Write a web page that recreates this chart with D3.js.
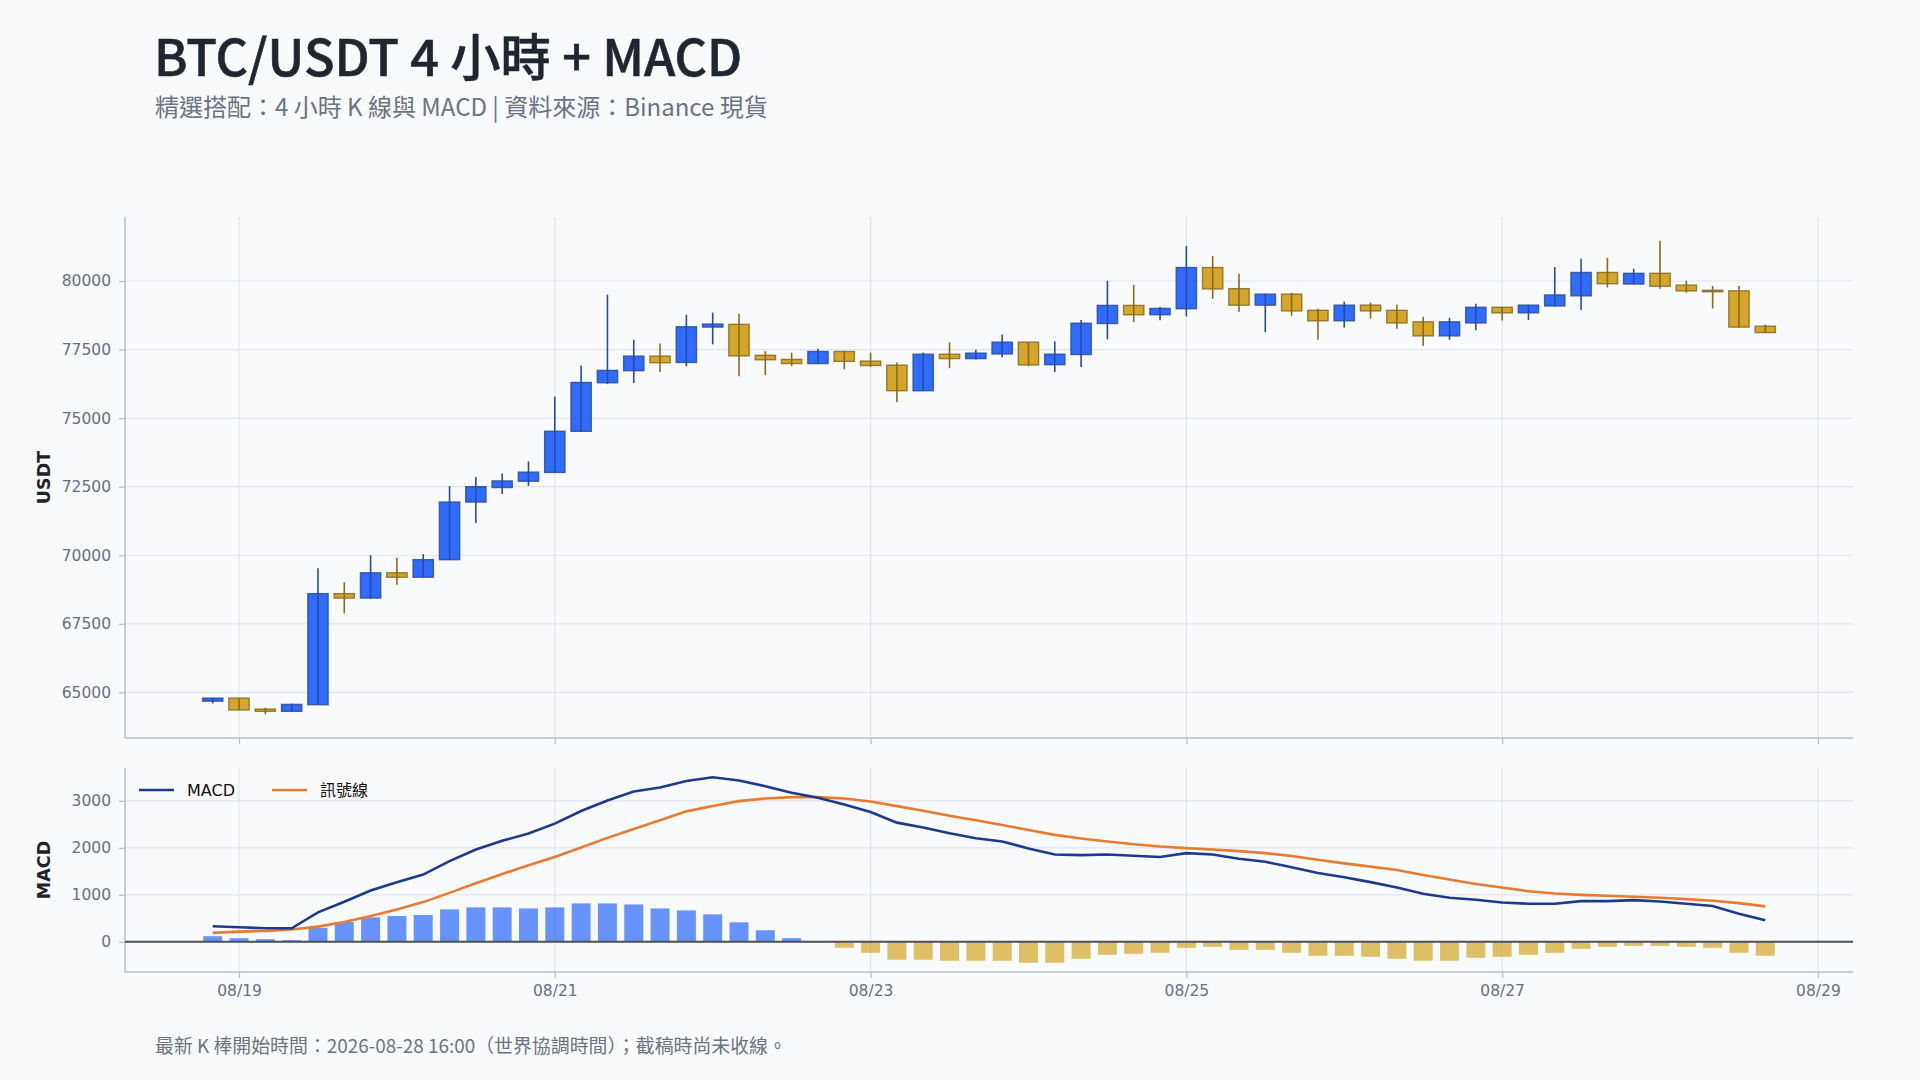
<!DOCTYPE html>
<html>
<head>
<meta charset="utf-8">
<script src="https://cdn.jsdelivr.net/npm/d3@7/dist/d3.min.js"></script>
<style>
  html, body { margin: 0; padding: 0; background: #f8fafc; }
  svg { display: block; }
</style>
</head>
<body>
<svg id="chart" width="1920" height="1080"></svg>
<script>
// ---------------- DATA ----------------
const times = [
  "2026-08-18T20:00Z","2026-08-19T00:00Z","2026-08-19T04:00Z","2026-08-19T08:00Z","2026-08-19T12:00Z","2026-08-19T16:00Z",
  "2026-08-19T20:00Z","2026-08-20T00:00Z","2026-08-20T04:00Z","2026-08-20T08:00Z","2026-08-20T12:00Z","2026-08-20T16:00Z",
  "2026-08-20T20:00Z","2026-08-21T00:00Z","2026-08-21T04:00Z","2026-08-21T08:00Z","2026-08-21T12:00Z","2026-08-21T16:00Z",
  "2026-08-21T20:00Z","2026-08-22T00:00Z","2026-08-22T04:00Z","2026-08-22T08:00Z","2026-08-22T12:00Z","2026-08-22T16:00Z",
  "2026-08-22T20:00Z","2026-08-23T00:00Z","2026-08-23T04:00Z","2026-08-23T08:00Z","2026-08-23T12:00Z","2026-08-23T16:00Z",
  "2026-08-23T20:00Z","2026-08-24T00:00Z","2026-08-24T04:00Z","2026-08-24T08:00Z","2026-08-24T12:00Z","2026-08-24T16:00Z",
  "2026-08-24T20:00Z","2026-08-25T00:00Z","2026-08-25T04:00Z","2026-08-25T08:00Z","2026-08-25T12:00Z","2026-08-25T16:00Z",
  "2026-08-25T20:00Z","2026-08-26T00:00Z","2026-08-26T04:00Z","2026-08-26T08:00Z","2026-08-26T12:00Z","2026-08-26T16:00Z",
  "2026-08-26T20:00Z","2026-08-27T00:00Z","2026-08-27T04:00Z","2026-08-27T08:00Z","2026-08-27T12:00Z","2026-08-27T16:00Z",
  "2026-08-27T20:00Z","2026-08-28T00:00Z","2026-08-28T04:00Z","2026-08-28T08:00Z","2026-08-28T12:00Z","2026-08-28T16:00Z"
];
const open = [64680,64790,64390,64310,64550,68600,68440,69360,69200,69840,71940,72470,72700,73020,74520,76290,76730,77260,77030,78320,
  78420,77290,77140,76990,77430,77080,76930,76000,77330,77170,77340,77770,76950,77320,78450,79110,78770,78990,80490,79720,
  79120,79520,78930,78550,79120,78930,78510,78000,78470,79040,78840,79090,79460,80310,79890,80280,79850,79660,79640,78350];
const high = [64800,64790,64440,64590,69530,69010,70000,69910,70040,72520,72850,72980,73420,75790,76920,79500,77860,77720,78770,78850,
  78810,77440,77390,77530,77460,77390,77030,77390,77760,77490,78050,77770,77800,78580,80010,79860,79050,81280,80910,80260,
  79540,79570,78990,79250,79210,79140,78700,78660,79170,79050,79130,80510,80810,80840,80450,81470,80010,79820,79820,78410];
const low = [64600,64350,64200,64300,64540,67880,68420,68920,69190,69830,71180,72230,72530,73010,74510,76240,76280,76680,76890,77690,
  76530,76570,76890,76970,76780,76860,75580,75990,76820,77140,77220,76890,76680,76860,77870,78500,78570,78710,79350,78880,
  78130,78730,77860,78300,78630,78260,77640,77860,78200,78560,78580,79080,78940,79760,79880,79720,79570,79000,78300,78110];
const close = [64790,64360,64310,64560,68600,68440,69360,69200,69840,71940,72500,72710,73030,74520,76300,76740,77260,77020,78330,78430,
  77270,77130,76990,77430,77070,76920,76000,77330,77170,77370,77770,76940,77330,78460,79110,78770,79000,80490,79710,79120,
  79520,78910,78550,79120,78910,78470,78000,78510,79040,78840,79120,79490,80310,79900,80280,79810,79640,79610,78320,78120];

const macd = [331,310,289,289,627,852,1092,1268,1430,1718,1965,2148,2303,2514,2782,3007,3197,3282,3420,3500,
  3430,3310,3169,3063,2923,2761,2535,2430,2310,2204,2134,1986,1859,1845,1859,1831,1803,1887,1859,1768,
  1704,1585,1465,1373,1270,1155,1021,937,894,838,810,810,866,866,887,859,810,761,599,458];
const signal = [190,218,232,261,324,423,549,690,845,1042,1246,1444,1627,1803,2007,2211,2401,2585,2775,2887,
  2993,3049,3077,3077,3049,2986,2887,2789,2683,2585,2486,2380,2275,2197,2134,2077,2028,1993,1965,1930,
  1887,1824,1746,1669,1600,1528,1423,1324,1232,1155,1077,1028,1000,979,958,937,908,873,824,754];
const hist = [120,77,56,35,296,423,521,549,570,690,732,732,711,732,817,817,796,711,669,585,
  415,246,77,-8,-127,-232,-380,-380,-401,-401,-401,-444,-444,-359,-275,-254,-232,-127,-106,-169,
  -169,-232,-296,-296,-317,-359,-401,-401,-338,-317,-275,-232,-148,-106,-85,-85,-106,-127,-232,-296];

const priceTicks = [65000, 67500, 70000, 72500, 75000, 77500, 80000];
const macdTicks = [0, 1000, 2000, 3000];
const dateTicks = ["2026-08-19T00:00Z","2026-08-21T00:00Z","2026-08-23T00:00Z","2026-08-25T00:00Z","2026-08-27T00:00Z","2026-08-29T00:00Z"];
const xDomain = ["2026-08-18T06:40Z", "2026-08-29T05:20Z"];

const titleText = "BTC/USDT 4 小時 + MACD";
const subtitleText = "精選搭配：4 小時 K 線與 MACD | 資料來源：Binance 現貨";
const footerText = "最新 K 棒開始時間：2026-08-28 16:00（世界協調時間）；截稿時尚未收線。";
const legendLabels = ["MACD", "訊號線"];

// ---------------- LAYOUT ----------------
const svg = d3.select("#chart");
const L = 125, R = 1853;
const pTop = 217, pBot = 738;
const mTop = 768, mBot = 972;
const cjk = "'Noto Sans CJK TC', 'Noto Sans', sans-serif";
const tickFont = "'DejaVu Sans', sans-serif";
const gridColor = "#e1e5eb";
const axisColor = "#b7bec9";
const tickTextColor = "#687080";

const upFill = "#2f6bff", upStroke = "#2b4c9b";
const dnFill = "#d4a72c", dnStroke = "#8a6a1c";

const parse = d3.utcParse("%Y-%m-%dT%H:%MZ");
const t = times.map(parse);
const candles = t.map((d, i) => ({ t: d, o: open[i], h: high[i], l: low[i], c: close[i], m: macd[i], s: signal[i], hv: hist[i] }));

svg.append("rect").attr("width", 1920).attr("height", 1080).attr("fill", "#f8fafc");

const x = d3.scaleUtc().domain(xDomain.map(parse)).range([L, R]);
const step = x(t[1]) - x(t[0]);

const lo = d3.min(low), hi = d3.max(high);
const pad = (hi - lo) * 0.05;
const y = d3.scaleLinear().domain([lo - pad, hi + pad]).range([pBot, pTop]);

const mMin = d3.min([d3.min(macd), d3.min(signal), d3.min(hist)]);
const mMax = d3.max([d3.max(macd), d3.max(signal), d3.max(hist)]);
const mPad = (mMax - mMin) * 0.05;
const ym = d3.scaleLinear().domain([mMin - mPad, mMax + mPad]).range([mBot, mTop]);

const dticks = dateTicks.map(parse);

// ---------------- PRICE PANEL ----------------
const gp = svg.append("g");
gp.append("g").selectAll("line").data(priceTicks).join("line")
  .attr("x1", L).attr("x2", R).attr("y1", d => y(d)).attr("y2", d => y(d))
  .attr("stroke", gridColor).attr("stroke-width", 1.2);
gp.append("g").selectAll("line").data(dticks).join("line")
  .attr("x1", d => x(d)).attr("x2", d => x(d)).attr("y1", pTop).attr("y2", pBot)
  .attr("stroke", gridColor).attr("stroke-width", 1.2);

const yAxis = d3.axisLeft(y).tickValues(priceTicks).tickSize(6).tickPadding(8).tickFormat(d3.format("d"));
const gy = gp.append("g").attr("transform", `translate(${L},0)`).call(yAxis);
const xAxisP = d3.axisBottom(x).tickValues(dticks).tickSize(6).tickFormat("");
const gxp = gp.append("g").attr("transform", `translate(0,${pBot})`).call(xAxisP);
[gy, gxp].forEach(g => {
  g.select(".domain").remove();
  g.selectAll(".tick line").attr("stroke", axisColor).attr("stroke-width", 1.2);
  g.selectAll(".tick text").attr("fill", tickTextColor).style("font-family", tickFont).style("font-size", "15.5px");
});
gp.append("line").attr("x1", L).attr("x2", L).attr("y1", pTop).attr("y2", pBot).attr("stroke", axisColor).attr("stroke-width", 1.5);
gp.append("line").attr("x1", L).attr("x2", R).attr("y1", pBot).attr("y2", pBot).attr("stroke", axisColor).attr("stroke-width", 1.5);

// candles
const bw = step * 0.77;
const cg = gp.append("g").selectAll("g").data(candles).join("g");
cg.append("line")
  .attr("x1", d => x(d.t)).attr("x2", d => x(d.t))
  .attr("y1", d => y(d.h)).attr("y2", d => y(d.l))
  .attr("stroke", d => d.c >= d.o ? upStroke : dnStroke).attr("stroke-width", 1.6);
cg.append("rect")
  .attr("x", d => x(d.t) - bw / 2).attr("width", bw)
  .attr("y", d => y(Math.max(d.o, d.c)))
  .attr("height", d => Math.max(1, Math.abs(y(d.o) - y(d.c))))
  .attr("fill", d => d.c >= d.o ? upFill : dnFill)
  .attr("stroke", d => d.c >= d.o ? upStroke : dnStroke).attr("stroke-width", 1.4).attr("stroke-opacity", 0.85);
cg.append("line")
  .attr("x1", d => x(d.t)).attr("x2", d => x(d.t))
  .attr("y1", d => y(Math.max(d.o, d.c))).attr("y2", d => y(Math.min(d.o, d.c)))
  .attr("stroke", d => d.c >= d.o ? upStroke : dnStroke).attr("stroke-width", 1.6);

svg.append("text").attr("transform", `translate(50,${(pTop + pBot) / 2}) rotate(-90)`)
  .attr("text-anchor", "middle").attr("fill", "#1f2328")
  .style("font-family", "'DejaVu Sans', sans-serif").style("font-weight", "bold").style("font-size", "17.5px")
  .text("USDT");

// ---------------- MACD PANEL ----------------
const gm = svg.append("g");
gm.append("g").selectAll("line").data(macdTicks).join("line")
  .attr("x1", L).attr("x2", R).attr("y1", d => ym(d)).attr("y2", d => ym(d))
  .attr("stroke", gridColor).attr("stroke-width", 1.2);
gm.append("g").selectAll("line").data(dticks).join("line")
  .attr("x1", d => x(d)).attr("x2", d => x(d)).attr("y1", mTop).attr("y2", mBot)
  .attr("stroke", gridColor).attr("stroke-width", 1.2);

const ymAxis = d3.axisLeft(ym).tickValues(macdTicks).tickSize(6).tickPadding(8).tickFormat(d3.format("d"));
const gym = gm.append("g").attr("transform", `translate(${L},0)`).call(ymAxis);
const xAxisM = d3.axisBottom(x).tickValues(dticks).tickSize(6).tickPadding(7).tickFormat(d3.utcFormat("%m/%d"));
const gxm = gm.append("g").attr("transform", `translate(0,${mBot})`).call(xAxisM);
[gym, gxm].forEach(g => {
  g.select(".domain").remove();
  g.selectAll(".tick line").attr("stroke", axisColor).attr("stroke-width", 1.2);
  g.selectAll(".tick text").attr("fill", tickTextColor).style("font-family", tickFont).style("font-size", "15.5px");
});
gm.append("line").attr("x1", L).attr("x2", L).attr("y1", mTop).attr("y2", mBot).attr("stroke", axisColor).attr("stroke-width", 1.5);
gm.append("line").attr("x1", L).attr("x2", R).attr("y1", mBot).attr("y2", mBot).attr("stroke", axisColor).attr("stroke-width", 1.5);

const hw = step * 0.72;
gm.append("g").selectAll("rect").data(candles).join("rect")
  .attr("x", d => x(d.t) - hw / 2).attr("width", hw)
  .attr("y", d => ym(Math.max(0, d.hv)))
  .attr("height", d => Math.abs(ym(d.hv) - ym(0)))
  .attr("fill", d => d.hv >= 0 ? upFill : dnFill).attr("fill-opacity", 0.72);

gm.append("line").attr("x1", L).attr("x2", R).attr("y1", ym(0)).attr("y2", ym(0))
  .attr("stroke", "#4b5058").attr("stroke-width", 2);

const lineM = d3.line().x(d => x(d.t)).y(d => ym(d.m));
const lineS = d3.line().x(d => x(d.t)).y(d => ym(d.s));
gm.append("path").datum(candles).attr("d", lineS).attr("fill", "none").attr("stroke", "#e87b30").attr("stroke-width", 2.6);
gm.append("path").datum(candles).attr("d", lineM).attr("fill", "none").attr("stroke", "#1c3a8e").attr("stroke-width", 2.6);

const leg = gm.append("g").attr("transform", `translate(139,${mTop + 22})`);
const legColors = ["#1c3a8e", "#e87b30"];
const legX = [0, 133];
legendLabels.forEach((lab, i) => {
  leg.append("line").attr("x1", legX[i]).attr("x2", legX[i] + 35).attr("y1", 0).attr("y2", 0)
    .attr("stroke", legColors[i]).attr("stroke-width", 2.6);
  leg.append("text").attr("x", legX[i] + 48).attr("y", 6).attr("fill", "#111")
    .style("font-family", i === 0 ? "'DejaVu Sans', sans-serif" : cjk).style("font-size", "16px").text(lab);
});

svg.append("text").attr("transform", `translate(50,${(mTop + mBot) / 2}) rotate(-90)`)
  .attr("text-anchor", "middle").attr("fill", "#1f2328")
  .style("font-family", "'DejaVu Sans', sans-serif").style("font-weight", "bold").style("font-size", "17.5px")
  .text("MACD");

// ---------------- TITLES ----------------
svg.append("text").attr("x", 154).attr("y", 76).attr("fill", "#1f2630")
  .attr("stroke", "#1f2630").attr("stroke-width", 0.6)
  .style("font-family", cjk).style("font-weight", "500").style("font-size", "50.3px").text(titleText);
svg.append("text").attr("x", 155).attr("y", 116).attr("fill", "#6b7382")
  .style("font-family", cjk).style("font-size", "24px").text(subtitleText);
svg.append("text").attr("x", 155).attr("y", 1053).attr("fill", "#6b7382")
  .style("font-family", cjk).style("font-size", "18.9px").text(footerText);
</script>
</body>
</html>
